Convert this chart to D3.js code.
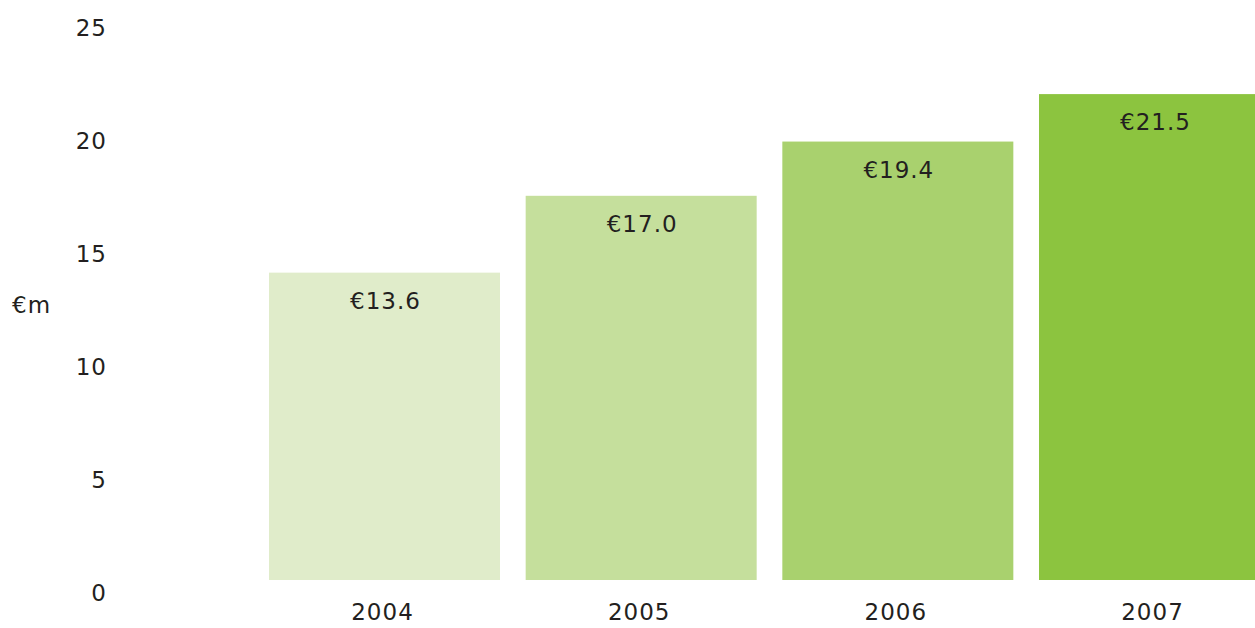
<!DOCTYPE html>
<html>
<head>
<meta charset="utf-8">
<script src="https://cdn.jsdelivr.net/npm/d3@7"></script>
<style>
  html, body { margin: 0; padding: 0; background: #fff; overflow: hidden; }
  text { font-family: "DejaVu Sans", sans-serif; fill: #231f20; letter-spacing: 1px; }
</style>
</head>
<body>
<div id="chart"></div>
<script>
const WIDTH = 1255;
const HEIGHT = 628;
const FONT = '"DejaVu Sans", sans-serif';

// data
const years = ['2004', '2005', '2006', '2007'];
const values = [13.6, 17.0, 19.4, 21.5];
const valueLabels = ['€13.6', '€17.0', '€19.4', '€21.5'];
const barColors = ['#e0ecca', '#c5df9c', '#a9d16e', '#8cc43f'];
const yTicks = [0, 5, 10, 15, 20, 25];
const unitLabel = '€m';

var svg = d3.select('#chart')
    .append('svg')
    .attr('width', WIDTH)
    .attr('height', HEIGHT);

let x = d3.scaleBand()
    .domain(years)
    .range([269, 1270])
    .paddingInner(0.1)
    .paddingOuter(0);

let y = d3.scaleLinear()
    .domain([0, 25])
    .range([580, 15]);

// bars
svg.selectAll('rect.bar')
    .data(years)
    .enter()
    .append('rect')
    .attr('class', 'bar')
    .attr('x', d => x(d))
    .attr('y', (d, i) => y(values[i]))
    .attr('width', x.bandwidth())
    .attr('height', (d, i) => y(0) - y(values[i]))
    .attr('fill', (d, i) => barColors[i]);

// value labels inside bars
svg.selectAll('text.value')
    .data(years)
    .enter()
    .append('text')
    .attr('class', 'value')
    .attr('x', d => x(d) + x.bandwidth() / 2 + 1)
    .attr('y', (d, i) => y(values[i]) + 36)
    .attr('text-anchor', 'middle')
    .attr('font-size', 23)
    .text((d, i) => valueLabels[i]);

// y axis labels (no line, no ticks)
let yAxis = d3.axisLeft(y)
    .tickValues(yTicks)
    .tickSize(0)
    .tickPadding(0);

let yg = svg.append('g')
    .attr('transform', 'translate(107,0)')
    .call(yAxis);
yg.select('.domain').remove();
yg.selectAll('text')
    .attr('font-size', 23)
    .attr('dy', '20px')
    .attr('fill', '#231f20')
    .style('font-family', FONT);

// x axis labels
let xAxis = d3.axisBottom(x)
    .tickSize(0)
    .tickPadding(0);

let xg = svg.append('g')
    .attr('transform', 'translate(-2,604)')
    .call(xAxis);
xg.select('.domain').remove();
xg.selectAll('text')
    .attr('font-size', 23)
    .attr('dy', '0.71em')
    .attr('fill', '#231f20')
    .style('font-family', FONT);

// unit label
svg.append('text')
    .attr('x', 12)
    .attr('y', 313)
    .attr('font-size', 23)
    .text(unitLabel);
</script>
</body>
</html>
